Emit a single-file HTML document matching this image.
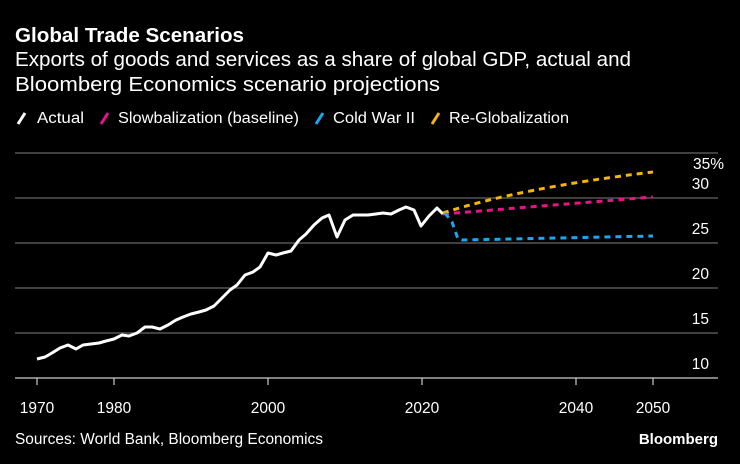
<!DOCTYPE html>
<html><head><meta charset="utf-8"><style>
html,body{margin:0;padding:0;background:#000;}
svg{display:block;font-family:"Liberation Sans",sans-serif;}
</style></head><body>
<svg width="740" height="464" viewBox="0 0 740 464" xmlns="http://www.w3.org/2000/svg">
<rect width="740" height="464" fill="#000"/>
<text x="15" y="42" fill="#fff" font-size="20.5" font-weight="bold" textLength="229" lengthAdjust="spacingAndGlyphs">Global Trade Scenarios</text>
<text x="15" y="66" fill="#fff" font-size="20.3" textLength="616" lengthAdjust="spacingAndGlyphs">Exports of goods and services as a share of global GDP, actual and</text>
<text x="15" y="91" fill="#fff" font-size="20.3" textLength="425" lengthAdjust="spacingAndGlyphs">Bloomberg Economics scenario projections</text>
<g font-size="15.5" fill="#fff">
<line x1="18" y1="124" x2="25" y2="113" stroke="#fff" stroke-width="3"/>
<text x="37" y="123" textLength="47" lengthAdjust="spacingAndGlyphs">Actual</text>
<line x1="101" y1="124" x2="108" y2="113" stroke="#e8138a" stroke-width="3"/>
<text x="118" y="123" textLength="181" lengthAdjust="spacingAndGlyphs">Slowbalization (baseline)</text>
<line x1="316" y1="124" x2="323" y2="113" stroke="#1aa7f0" stroke-width="3"/>
<text x="333" y="123" textLength="82" lengthAdjust="spacingAndGlyphs">Cold War II</text>
<line x1="432" y1="124" x2="439" y2="113" stroke="#f6b40c" stroke-width="3"/>
<text x="449" y="123" textLength="120" lengthAdjust="spacingAndGlyphs">Re-Globalization</text>
</g>
<g stroke="#666" stroke-width="1.2">
<line x1="15" y1="153" x2="718" y2="153"/>
<line x1="15" y1="198" x2="718" y2="198"/>
<line x1="15" y1="243" x2="718" y2="243"/>
<line x1="15" y1="288" x2="718" y2="288"/>
<line x1="15" y1="333" x2="718" y2="333"/>
</g>
<line x1="15" y1="378" x2="718" y2="378" stroke="#ccc" stroke-width="1.2"/>
<g stroke="#ccc" stroke-width="1.2">
<line x1="37" y1="378" x2="37" y2="385"/><line x1="114" y1="378" x2="114" y2="385"/>
<line x1="268" y1="378" x2="268" y2="385"/><line x1="422" y1="378" x2="422" y2="385"/>
<line x1="576" y1="378" x2="576" y2="385"/><line x1="653" y1="378" x2="653" y2="385"/>
</g>
<g fill="#fff" font-size="15.5" text-anchor="end">
<text x="724" y="169">35%</text>
<text x="709" y="189">30</text>
<text x="709" y="234">25</text>
<text x="709" y="279">20</text>
<text x="709" y="324">15</text>
<text x="709" y="369">10</text>
</g>
<g fill="#fff" font-size="15.5" text-anchor="middle">
<text x="37" y="413">1970</text><text x="114" y="413">1980</text><text x="268" y="413">2000</text>
<text x="422" y="413">2020</text><text x="576" y="413">2040</text><text x="653" y="413">2050</text>
</g>
<polyline fill="none" stroke="#fff" stroke-width="3" stroke-linejoin="round" points="37,359 45,357 52,353 60,348 68,345 76,349 83,345 91,344 99,343 106,341 114,339 122,335 129,336 137,333 145,327 152,327 160,329 168,325 176,320 183,317 191,314 199,312 206,310 214,306 222,298 230,290 237,285 245,275 253,272 260,267 268,253 276,255 283,253 291,251 299,240 306,234 314,225 322,218 329,215 337,237 345,220 353,215 360,215 368,215 376,214 383,213 391,214 399,210 406,207 414,210 421,226 429,216 437,208 443,214"/>
<path d="M443,214 L653,197" fill="none" stroke="#e8138a" stroke-width="3" stroke-dasharray="6,5"/>
<path d="M443,213 Q520,188 653,172" fill="none" stroke="#f6b40c" stroke-width="3" stroke-dasharray="6,5"/>
<path d="M445,213 L452,222 L458,239 L462,240 L653,236" fill="none" stroke="#1aa7f0" stroke-width="3" stroke-dasharray="6,5"/>
<text x="15" y="444" fill="#fff" font-size="15.5" textLength="308" lengthAdjust="spacingAndGlyphs">Sources: World Bank, Bloomberg Economics</text>
<text x="718" y="444" fill="#fff" font-size="15" font-weight="bold" text-anchor="end">Bloomberg</text>
</svg>
</body></html>
